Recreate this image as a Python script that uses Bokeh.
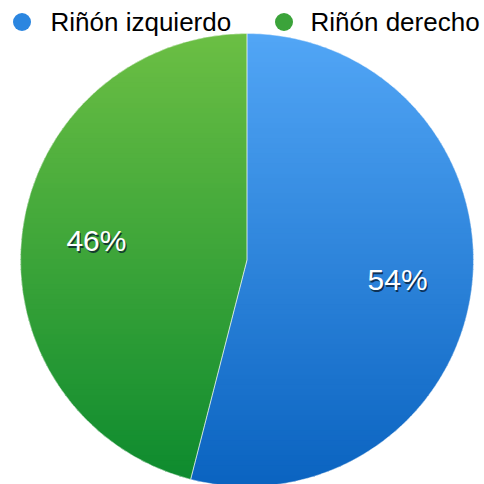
import math
from bokeh.plotting import figure
from bokeh.models import Range1d
from bokeh.embed import file_html
from bokeh.resources import INLINE
from bokeh.core.properties import value

# ---- data ----
categories = ["Riñón izquierdo", "Riñón derecho"]
shares = [54, 46]
pct_labels = ["54%", "46%"]
top_colors = [(82, 166, 246), (108, 191, 68)]
bottom_colors = [(10, 99, 192), (12, 138, 46)]
legend_colors = ["#2b86e0", "#3ba33a"]

W = H = 484
FONT = "Liberation Sans"

p = figure(width=W, height=H, x_range=Range1d(0, W), y_range=Range1d(0, H),
           output_backend="svg", toolbar_location=None, min_border=0)
p.axis.visible = False
p.grid.visible = False
p.outline_line_color = None
p.background_fill_color = "white"
p.border_fill_color = "white"

cx, cy, r = 246.5, 224.5, 226.5

total = float(sum(shares))
starts, ends = [], []
a = math.pi / 2
for s in shares:
    starts.append(a)
    a = a - 2 * math.pi * s / total
    ends.append(a)


def wedge_poly(a0, a1, n=240):
    pts = [(cx, cy)]
    for i in range(n + 1):
        t = a0 + (a1 - a0) * i / n
        pts.append((cx + r * math.cos(t), cy + r * math.sin(t)))
    return pts


def clip(poly, yv, keep_above):
    def inside(pt):
        return pt[1] >= yv if keep_above else pt[1] <= yv
    out = []
    n = len(poly)
    for i in range(n):
        pa = poly[i]
        pb = poly[(i + 1) % n]
        ia, ib = inside(pa), inside(pb)
        if ia:
            out.append(pa)
        if ia != ib:
            t = (yv - pa[1]) / (pb[1] - pa[1])
            out.append((pa[0] + t * (pb[0] - pa[0]), yv))
    return out


NB = 90
top = cy + r
bot = cy - r
h = (top - bot) / NB
xs, ys, cols = [], [], []
for si in range(len(shares)):
    poly = wedge_poly(starts[si], ends[si])
    c0, c1 = top_colors[si], bottom_colors[si]
    for k in range(NB):
        y_hi = top - k * h + (1.0 if k > 0 else 0.0)
        y_lo = top - (k + 1) * h
        q = clip(poly, y_hi, False)
        if len(q) < 3:
            continue
        q = clip(q, y_lo, True)
        if len(q) < 3:
            continue
        t = (k + 0.5) / NB
        col = tuple(int(round(c0[j] + (c1[j] - c0[j]) * t)) for j in range(3))
        xs.append([pt[0] for pt in q])
        ys.append([pt[1] for pt in q])
        cols.append("#%02x%02x%02x" % col)

p.patches(xs=xs, ys=ys, fill_color=cols, line_color=None)

# thin light separators
p.wedge(x=[cx] * len(shares), y=[cy] * len(shares), radius=r,
        start_angle=ends, end_angle=starts, fill_alpha=0,
        line_color="white", line_alpha=0.55, line_width=0.8)

# percentage labels
lx, ly = [], []
for si in range(len(shares)):
    mid = (starts[si] + ends[si]) / 2
    d = 0.67 * r
    lx.append(cx + d * math.cos(mid))
    ly.append(cy + d * math.sin(mid))

p.text(x=[v + 1.3 for v in lx], y=[v - 2.0 for v in ly], text=pct_labels,
       text_font=value(FONT), text_font_size="30px", text_color="#06182c",
       text_alpha=0.75, text_align="center", text_baseline="middle")
p.text(x=lx, y=ly, text=pct_labels, text_font=value(FONT), text_font_size="30px",
       text_color="white", text_align="center", text_baseline="middle")

# legend
leg_dot_x = [21.5, 283.5]
leg_txt_x = [50, 310]
p.scatter(x=leg_dot_x, y=[H - 21.5] * 2, size=18, marker="circle",
          fill_color=legend_colors, line_color=None)
p.text(x=leg_txt_x, y=[H - 21.5] * 2, text=categories, text_font=value(FONT),
       text_font_size="26px", text_color="black", text_align="left",
       text_baseline="middle")

open("out.html", "w").write(file_html(p, INLINE))
